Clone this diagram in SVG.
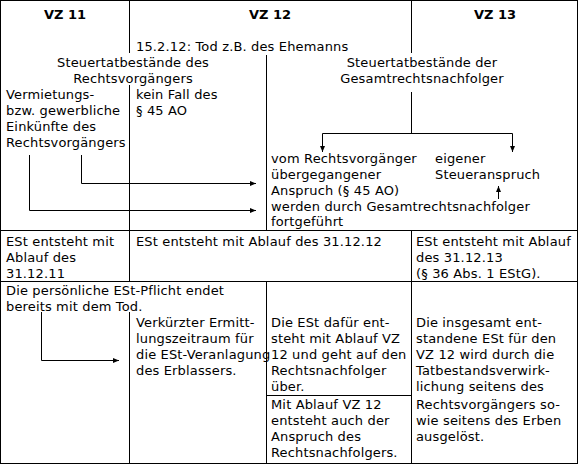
<svg xmlns="http://www.w3.org/2000/svg" width="579" height="465" viewBox="0 0 579 465">
<defs>
<style>
text{font-family:"DejaVu Sans",Verdana,sans-serif;font-size:13px;fill:#000;letter-spacing:0.15px}
.h{font-weight:bold;letter-spacing:0}
.m{text-anchor:middle}
.ln{stroke:#000;stroke-width:1;fill:none;shape-rendering:crispEdges}
.cn{stroke:#000;stroke-width:1;fill:none}
</style>
<marker id="ah" viewBox="0 0 6 6" refX="6" refY="3" markerWidth="6" markerHeight="6" orient="auto" markerUnits="userSpaceOnUse">
<path d="M0,0.5 L6,3 L0,5.5 Z" fill="#000"/>
</marker>
</defs>
<rect width="579" height="465" fill="#fff"/>
<g id="grid" class="ln">
<rect x="0.5" y="0.5" width="577" height="463"/>
<path d="M129.5,0 V53 M129.5,85 V281 M129.5,312 V464"/>
<path d="M411.5,0 V53 M411.5,230 V464"/>
<path d="M266.5,55 V230 M266.5,281 V464"/>
<path d="M0,230.5 H578 M0,281.5 H578 M266,395.5 H411"/>
</g>
<g id="header">
<text class="h m" x="65" y="19">VZ 11</text>
<text class="h m" x="270" y="19">VZ 12</text>
<text class="h m" x="495" y="19">VZ 13</text>
</g>
<g id="tod"><text x="136" y="51">15.2.12: Tod z.B. des Ehemanns</text></g>
<g id="stb-rv">
<text class="m" x="133" y="67">Steuertatbestände des</text>
<text class="m" x="133" y="83">Rechtsvorgängers</text>
</g>
<g id="stb-gr">
<text class="m" x="422" y="67">Steuertatbestände der</text>
<text class="m" x="422" y="83">Gesamtrechtsnachfolger</text>
</g>
<g id="einkuenfte">
<text x="6" y="99">Vermietungs-</text>
<text x="6" y="115">bzw. gewerbliche</text>
<text x="6" y="131">Einkünfte des</text>
<text x="6" y="147">Rechtsvorgängers</text>
</g>
<g id="kein-fall">
<text x="136" y="99">kein Fall des</text>
<text x="136" y="115">§ 45 AO</text>
</g>
<g id="anspruch-rv">
<text x="271" y="163">vom Rechtsvorgänger</text>
<text x="271" y="179">übergegangener</text>
<text x="271" y="195">Anspruch (§ 45 AO)</text>
</g>
<g id="eigener">
<text x="435" y="163">eigener</text>
<text x="435" y="179">Steueranspruch</text>
</g>
<g id="fortgefuehrt">
<text x="271" y="211">werden durch Gesamtrechtsnachfolger</text>
<text x="271" y="226">fortgeführt</text>
</g>
<g id="est11">
<text x="6" y="246">ESt entsteht mit</text>
<text x="6" y="262">Ablauf des</text>
<text x="6" y="278">31.12.11</text>
</g>
<g id="est12"><text x="136" y="246">ESt entsteht mit Ablauf des 31.12.12</text></g>
<g id="est13">
<text x="416" y="246">ESt entsteht mit Ablauf</text>
<text x="416" y="262">des 31.12.13</text>
<text x="416" y="278">(§ 36 Abs. 1 EStG).</text>
</g>
<g id="pflicht">
<text x="6" y="295">Die persönliche ESt-Pflicht endet</text>
<text x="6" y="311">bereits mit dem Tod.</text>
</g>
<g id="verkuerzt">
<text x="136" y="327">Verkürzter Ermitt-</text>
<text x="136" y="343">lungszeitraum für</text>
<text x="136" y="359">die ESt-Veranlagung</text>
<text x="136" y="375">des Erblassers.</text>
</g>
<g id="est-dafuer">
<text x="271" y="327">Die ESt dafür ent-</text>
<text x="271" y="343">steht mit Ablauf VZ</text>
<text x="271" y="359">12 und geht auf den</text>
<text x="271" y="375">Rechtsnachfolger</text>
<text x="271" y="391">über.</text>
</g>
<g id="mit-ablauf">
<text x="271" y="409">Mit Ablauf VZ 12</text>
<text x="271" y="425">entsteht auch der</text>
<text x="271" y="441">Anspruch des</text>
<text x="271" y="457">Rechtsnachfolgers.</text>
</g>
<g id="insgesamt">
<text x="416" y="327">Die insgesamt ent-</text>
<text x="416" y="343">standene ESt für den</text>
<text x="416" y="359">VZ 12 wird durch die</text>
<text x="416" y="375">Tatbestandsverwirk-</text>
<text x="416" y="391">lichung seitens des</text>
<text x="416" y="409">Rechtsvorgängers so-</text>
<text x="416" y="425">wie seitens des Erben</text>
<text x="416" y="441">ausgelöst.</text>
</g>
<g id="connectors" class="cn">
<path d="M81.5,155 V183.5 H256" marker-end="url(#ah)"/>
<path d="M29.5,155 V210.5 H256" marker-end="url(#ah)"/>
<path d="M411.5,92 V133.5"/>
<path d="M322.5,133.5 H512.5"/>
<path d="M322.5,133.5 V152" marker-end="url(#ah)"/>
<path d="M512.5,133.5 V152" marker-end="url(#ah)"/>
<path d="M498.5,199 V186" marker-end="url(#ah)"/>
<path d="M41.5,312 V360.5 H119" marker-end="url(#ah)"/>
</g>
</svg>
